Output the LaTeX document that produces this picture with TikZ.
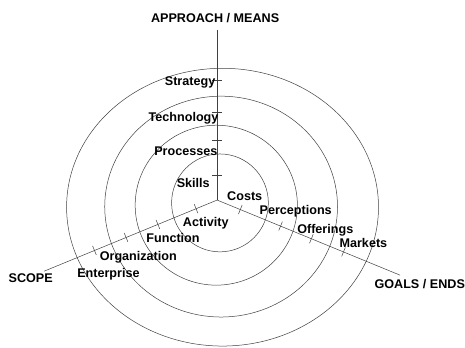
\documentclass[tikz,border=0pt]{standalone}
\usepackage{fontspec}
\setmainfont{Liberation Sans}
\usepackage{tikz}

\tikzset{
    ring/.style={draw=black!75, line width=0.5pt},
    axis/.style={draw=black!75, line width=0.5pt},
    lbl/.style={font=\fontsize{12.6}{14}\selectfont\bfseries, inner sep=1pt},
}

\begin{document}
\begin{tikzpicture}
    \useasboundingbox (-7.63,-5.17) rectangle (8.71,7.03);

    % the four rings
    \draw[ring] (0.10,-0.10) ellipse (1.70 and 1.72);
    \draw[ring] (-0.03,-0.18) ellipse (2.85 and 2.81);
    \draw[ring] (0.14,-0.23) ellipse (4.09 and 3.88);
    \draw[ring] (0.19,-0.25) ellipse (5.48 and 4.88);

    % axes
    \coordinate (o) at (0,0);
    \coordinate (means) at (0,5.97);
    \coordinate (ends) at (6.43,-2.64);
    \coordinate (scope) at (-6.08,-2.50);
    \draw[axis] (o) -- (means);
    \draw[axis] (o) -- (ends);
    \draw[axis] (o) -- (scope);

    % ticks between the rings
    \foreach \a/\l in {90/{0.88,2.11,3.09,4.22}, -22.3/{0.88,2.41,3.58,4.80}, 202.3/{0.80,2.25,3.46,4.66}}
        \foreach \d in \l
            \draw[axis, rotate=\a] (\d,-0.17) -- (\d,0.17);

    % axis titles
    \node[lbl] at (-0.07,6.39) (approach) {APPROACH / MEANS};
    \node[lbl] at (7.12,-2.96) (goals) {GOALS / ENDS};
    \node[lbl] at (-6.55,-2.75) (scopelbl) {SCOPE};

    % approach
    \node[lbl] at (-0.95,4.12) (strategy) {Strategy};
    \node[lbl] at (-1.18,2.87) (technology) {Technology};
    \node[lbl] at (-1.10,1.73) (processes) {Processes};
    \node[lbl] at (-0.84,0.61) (skills) {Skills};

    % goals
    \node[lbl] at (0.97,0.12) (costs) {Costs};
    \node[lbl] at (2.76,-0.41) (perceptions) {Perceptions};
    \node[lbl] at (3.80,-1.05) (offerings) {Offerings};
    \node[lbl] at (5.14,-1.52) (markets) {Markets};

    % scope
    \node[lbl] at (-0.40,-0.82) (activity) {Activity};
    \node[lbl] at (-1.55,-1.32) (function) {Function};
    \node[lbl] at (-2.77,-2.01) (organization) {Organization};
    \node[lbl] at (-3.82,-2.61) (enterprise) {Enterprise};
\end{tikzpicture}
\end{document}
